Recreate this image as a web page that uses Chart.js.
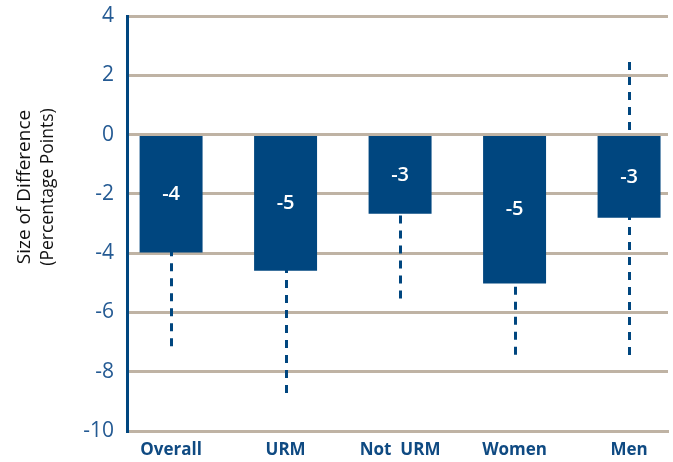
<!DOCTYPE html>
<html>
<head>
<meta charset="utf-8">
<script src="https://cdn.jsdelivr.net/npm/chart.js@4"></script>
<style>
  html, body { margin: 0; padding: 0; background: #fff; }
  #wrap { width: 673px; height: 462px; position: relative; }
</style>
</head>
<body>
<div id="wrap"><canvas id="grafica"></canvas></div>
<script>
// datos
const categorias = ['Overall', 'URM', 'Not  URM', 'Women', 'Men'];
const diferencias = [-3.98, -4.59, -2.67, -5.02, -2.81];
const errorBajo = [-7.2, -8.85, -5.66, -7.45, -7.45];
const errorAlto = [-0.8, -0.35, -0.2, -2.6, 2.45];
const marcasY = [4, 2, 0, -2, -4, -6, -8, -10];

const azul = '#00467f';
const tostado = '#bfb3a4';

// lineas de error punteadas (detras de las barras)
const pluginErrores = {
    id: 'errores',
    beforeDatasetsDraw(chart) {
        const { ctx, scales: { x, y } } = chart;
        ctx.save();
        ctx.strokeStyle = azul;
        ctx.lineWidth = 3;
        ctx.setLineDash([8, 7]);
        categorias.forEach((c, i) => {
            const px = Math.round(x.getPixelForValue(i)) + 0.5;
            ctx.beginPath();
            ctx.moveTo(px, y.getPixelForValue(errorAlto[i]));
            ctx.lineTo(px, y.getPixelForValue(errorBajo[i]));
            ctx.stroke();
        });
        ctx.restore();
    }
};

// etiquetas dentro de las barras
const pluginEtiquetas = {
    id: 'etiquetas',
    afterDatasetsDraw(chart) {
        const { ctx } = chart;
        const meta = chart.getDatasetMeta(0);
        ctx.save();
        ctx.fillStyle = '#ffffff';
        ctx.font = '600 20px "Open Sans"';
        ctx.textAlign = 'center';
        ctx.textBaseline = 'middle';
        meta.data.forEach((bar, i) => {
            const medio = (bar.y + bar.base) / 2;
            ctx.fillText(String(Math.round(diferencias[i])), bar.x, medio);
        });
        ctx.restore();
    }
};

// titulo del eje Y en dos tamaños
const pluginTituloY = {
    id: 'tituloY',
    afterDraw(chart) {
        const { ctx } = chart;
        ctx.save();
        ctx.fillStyle = '#111111';
        ctx.textAlign = 'center';
        ctx.textBaseline = 'middle';
        ctx.translate(0, 187);
        ctx.rotate(-Math.PI / 2);
        ctx.font = '19px "Open Sans"';
        ctx.fillText('Size of Difference', 0, 25);
        ctx.font = '17.5px "Open Sans"';
        ctx.fillText('(Percentage Points)', 0, 48);
        ctx.restore();
    }
};

new Chart(document.getElementById('grafica'), {
    type: 'bar',
    data: {
        datasets: [{
            label: 'Size of Difference',
            data: diferencias.map((v, i) => ({ x: i, y: v })),
            backgroundColor: azul,
            borderWidth: 0,
            barPercentage: 0.55,
            categoryPercentage: 1.0
        }]
    },
    options: {
        responsive: true,
        maintainAspectRatio: false,
        animation: false,
        layout: { padding: { left: 0, top: 16, right: 5, bottom: 0 } },
        plugins: {
            legend: { display: false },
            tooltip: { enabled: false }
        },
        scales: {
            x: {
                type: 'linear',
                offset: false,
                min: -0.385,
                max: 4.34,
                afterBuildTicks: (scale) => {
                    scale.ticks = categorias.map((c, i) => ({ value: i }));
                },
                afterFit: (scale) => { scale.height = 31; },
                grid: { display: false, drawTicks: false },
                border: { display: true, color: tostado, width: 3 },
                ticks: {
                    callback: (v) => categorias[v],
                    color: '#0f4a82',
                    font: { family: 'Open Sans', size: 17, weight: 'bold' },
                    padding: 9,
                    maxRotation: 0,
                    autoSkip: false
                }
            },
            y: {
                min: -10,
                max: 4,
                afterBuildTicks: (scale) => {
                    scale.ticks = marcasY.map(v => ({ value: v }));
                },
                afterFit: (scale) => {
                    scale.width = 127;
                    scale.paddingTop = 0;
                    scale.paddingBottom = 0;
                },
                grid: { color: tostado, lineWidth: 3, drawTicks: false },
                border: { display: true, color: azul, width: 3 },
                ticks: {
                    color: '#245a93',
                    font: { family: 'Open Sans', size: 21 },
                    padding: 13
                }
            }
        }
    },
    plugins: [pluginErrores, pluginEtiquetas, pluginTituloY]
});
</script>
</body>
</html>
